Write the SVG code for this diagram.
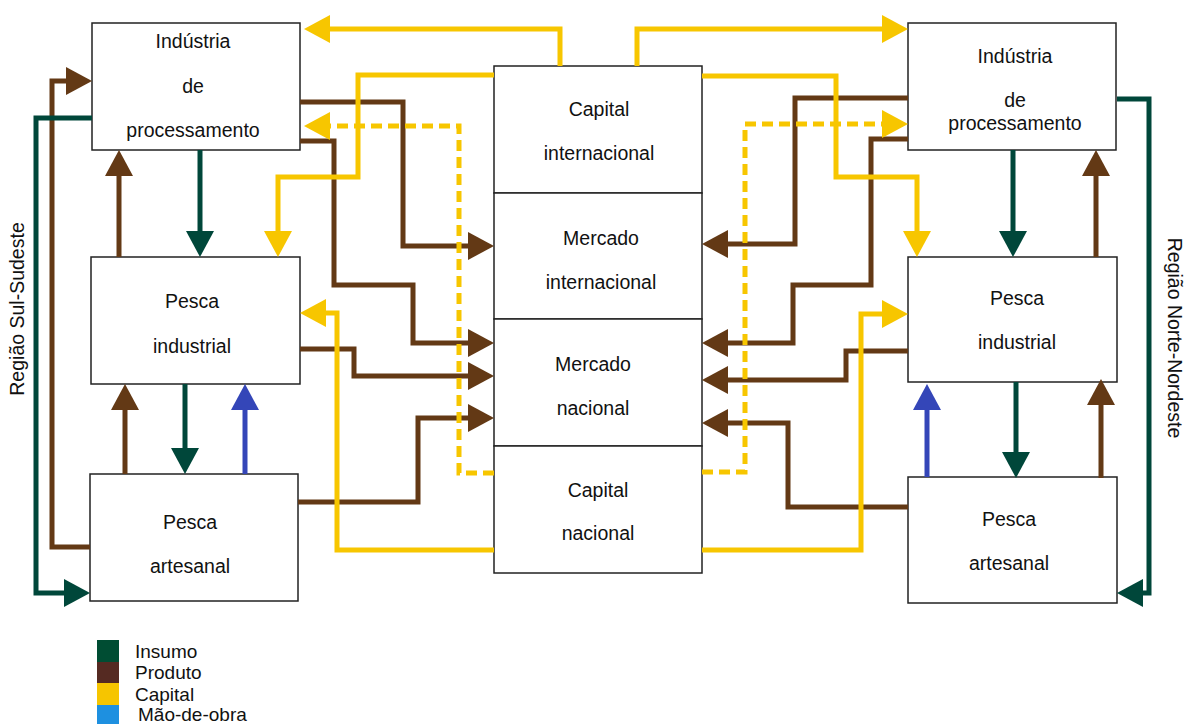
<svg xmlns="http://www.w3.org/2000/svg" width="1185" height="724" viewBox="0 0 1185 724">
<style>
.box{fill:#fff;stroke:#222;stroke-width:1.5}
.t{font-family:"Liberation Sans",Arial,sans-serif;font-size:19.5px;fill:#111;text-anchor:middle}
.lg{font-family:"Liberation Sans",Arial,sans-serif;font-size:19px;fill:#111}
.c{fill:none;stroke-width:5;stroke-linejoin:miter;stroke-linecap:butt}
.br{stroke:#633915}
.gr{stroke:#00473a}
.ye{stroke:#f7c600}
.bl{stroke:#3446b8}
.da{stroke-dasharray:11 6}
</style>
<defs>
<marker id="aBr" markerUnits="userSpaceOnUse" markerWidth="26" markerHeight="28" refX="0" refY="14" orient="auto"><path d="M0,0 L26,14 L0,28 z" fill="#633915"/></marker>
<marker id="aGr" markerUnits="userSpaceOnUse" markerWidth="26" markerHeight="28" refX="0" refY="14" orient="auto"><path d="M0,0 L26,14 L0,28 z" fill="#00473a"/></marker>
<marker id="aYe" markerUnits="userSpaceOnUse" markerWidth="26" markerHeight="28" refX="0" refY="14" orient="auto"><path d="M0,0 L26,14 L0,28 z" fill="#f7c600"/></marker>
<marker id="aBl" markerUnits="userSpaceOnUse" markerWidth="26" markerHeight="28" refX="0" refY="14" orient="auto"><path d="M0,0 L26,14 L0,28 z" fill="#3446b8"/></marker>
</defs>

<g id="ind-proc-sul">
<rect class="box" x="92" y="23" width="208" height="127"/>
<text class="t" x="193" y="48">Indústria</text>
<text class="t" x="193" y="93">de</text>
<text class="t" x="193" y="137">processamento</text>
</g>
<g id="pesca-ind-sul">
<rect class="box" x="91" y="257" width="209" height="127"/>
<text class="t" x="192" y="308">Pesca</text>
<text class="t" x="192" y="353">industrial</text>
</g>
<g id="pesca-art-sul">
<rect class="box" x="90" y="474" width="208" height="127"/>
<text class="t" x="190" y="529">Pesca</text>
<text class="t" x="190" y="573">artesanal</text>
</g>
<g id="capital-internacional">
<rect class="box" x="494" y="66" width="208" height="127"/>
<text class="t" x="599" y="116">Capital</text>
<text class="t" x="599" y="160">internacional</text>
</g>
<g id="mercado-internacional">
<rect class="box" x="494" y="193" width="208" height="126"/>
<text class="t" x="601" y="245">Mercado</text>
<text class="t" x="601" y="289">internacional</text>
</g>
<g id="mercado-nacional">
<rect class="box" x="494" y="319" width="208" height="127"/>
<text class="t" x="593" y="371">Mercado</text>
<text class="t" x="593" y="415">nacional</text>
</g>
<g id="capital-nacional">
<rect class="box" x="494" y="446" width="208" height="127"/>
<text class="t" x="598" y="497">Capital</text>
<text class="t" x="598" y="540">nacional</text>
</g>
<g id="ind-proc-norte">
<rect class="box" x="908" y="23" width="208" height="127"/>
<text class="t" x="1015" y="63">Indústria</text>
<text class="t" x="1015" y="107">de</text>
<text class="t" x="1015" y="130">processamento</text>
</g>
<g id="pesca-ind-norte">
<rect class="box" x="908" y="257" width="209" height="125"/>
<text class="t" x="1017" y="305">Pesca</text>
<text class="t" x="1017" y="349">industrial</text>
</g>
<g id="pesca-art-norte">
<rect class="box" x="908" y="477" width="209" height="126"/>
<text class="t" x="1009" y="526">Pesca</text>
<text class="t" x="1009" y="570">artesanal</text>
</g>

<g id="connectors">
<!-- left side -->
<path class="c br" d="M300,102 H403 V246 H468" marker-end="url(#aBr)"/>
<path class="c br" d="M300,141 H334 V285 H413 V343 H468" marker-end="url(#aBr)"/>
<path class="c br" d="M300,349 H354 V376 H468" marker-end="url(#aBr)"/>
<path class="c br" d="M298,502 H418 V418 H468" marker-end="url(#aBr)"/>
<path class="c br" d="M119,257 V176" marker-end="url(#aBr)"/>
<path class="c gr" d="M200,150 V231" marker-end="url(#aGr)"/>
<path class="c br" d="M125,474 V410" marker-end="url(#aBr)"/>
<path class="c gr" d="M185,384 V448" marker-end="url(#aGr)"/>
<path class="c bl" d="M245,474 V410" marker-end="url(#aBl)"/>
<path class="c br" d="M90,547 H52 V81 H66" marker-end="url(#aBr)"/>
<path class="c gr" d="M92,118 H36 V593 H64" marker-end="url(#aGr)"/>
<path class="c ye" d="M560,66 V29 H330" marker-end="url(#aYe)"/>
<path class="c ye" d="M494,75 H358 V177 H278 V231" marker-end="url(#aYe)"/>
<path class="c ye da" d="M494,473 H459 V126 H330" marker-end="url(#aYe)"/>
<path class="c ye" d="M494,550 H337 V313 H326" marker-end="url(#aYe)"/>
<!-- right side -->
<path class="c br" d="M908,98 H795 V244 H728" marker-end="url(#aBr)"/>
<path class="c br" d="M908,139 H871 V285 H793 V343 H728" marker-end="url(#aBr)"/>
<path class="c br" d="M908,351 H846 V380 H728" marker-end="url(#aBr)"/>
<path class="c br" d="M908,507 H788 V423 H728" marker-end="url(#aBr)"/>
<path class="c gr" d="M1013,150 V231" marker-end="url(#aGr)"/>
<path class="c br" d="M1096,257 V176" marker-end="url(#aBr)"/>
<path class="c bl" d="M927,477 V410" marker-end="url(#aBl)"/>
<path class="c gr" d="M1016,382 V452" marker-end="url(#aGr)"/>
<path class="c br" d="M1101,478 V405" marker-end="url(#aBr)"/>
<path class="c gr" d="M1117,99 H1149 V593 H1143" marker-end="url(#aGr)"/>
<path class="c ye" d="M637,66 V29 H882" marker-end="url(#aYe)"/>
<path class="c ye" d="M702,76 H836 V177 H917 V231" marker-end="url(#aYe)"/>
<path class="c ye da" d="M702,472 H745 V124 H882" marker-end="url(#aYe)"/>
<path class="c ye" d="M702,550 H861 V314 H882" marker-end="url(#aYe)"/>
</g>

<text class="t" transform="translate(24,309) rotate(-90)">Região Sul-Sudeste</text>
<text class="t" transform="translate(1168,338) rotate(90)">Região Norte-Nordeste</text>

<g id="legend">
<rect x="97" y="640" width="22" height="22" fill="#004d33"/>
<rect x="97" y="662" width="22" height="21" fill="#552a22"/>
<rect x="97" y="683" width="22" height="22" fill="#f6c500"/>
<rect x="97" y="705" width="22" height="19" fill="#1e90e0"/>
<text class="lg" x="135" y="658">Insumo</text>
<text class="lg" x="135" y="679">Produto</text>
<text class="lg" x="135" y="701">Capital</text>
<text class="lg" x="138" y="721">Mão-de-obra</text>
</g>
</svg>
